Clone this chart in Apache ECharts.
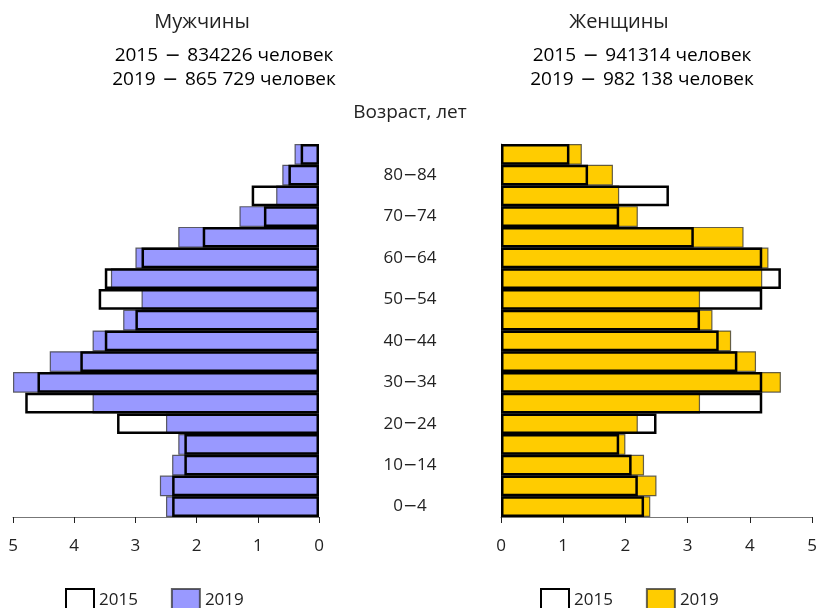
<!DOCTYPE html>
<html>
<head>
<meta charset="utf-8">
<script src="https://cdn.jsdelivr.net/npm/echarts@6/dist/echarts.min.js"></script>
<style>
  html, body { margin: 0; padding: 0; background: #fff; }
  #chart { width: 820px; height: 608px; }
</style>
</head>
<body>
<div id="chart"></div>
<script>
// age groups, youngest first (category axis runs bottom -> top)
const ages = ['0−4', '5−9', '10−14', '15−19', '20−24', '25−29', '30−34', '35−39', '40−44',
  '45−49', '50−54', '55−59', '60−64', '65−69', '70−74', '75−79', '80−84', '85+']

// percent of population
const men2015 = [2.4, 2.4, 2.2, 2.2, 3.3, 4.8, 4.6, 3.9, 3.5, 3.0, 3.6, 3.5, 2.9, 1.9, 0.9, 1.1, 0.5, 0.3]
const men2019 = [2.5, 2.6, 2.4, 2.3, 2.5, 3.7, 5.0, 4.4, 3.7, 3.2, 2.9, 3.4, 3.0, 2.3, 1.3, 0.7, 0.6, 0.4]
const women2015 = [2.3, 2.2, 2.1, 1.9, 2.5, 4.2, 4.2, 3.8, 3.5, 3.2, 4.2, 4.5, 4.2, 3.1, 1.9, 2.7, 1.4, 1.1]
const women2019 = [2.4, 2.5, 2.3, 2.0, 2.2, 3.2, 4.5, 4.1, 3.7, 3.4, 3.2, 4.2, 4.3, 3.9, 2.2, 1.9, 1.8, 1.3]

const xTicks = [0, 1, 2, 3, 4, 5]

const FONT = '"Open Sans", "Noto Sans", sans-serif'
const DASH_FONT = '"DejaVu Sans", sans-serif'
const BLUE = '#9999ff'
const YELLOW = '#ffcc00'
const INK = '#222'

const chart = echarts.init(document.getElementById('chart'))

function xAxisOf(gridIndex, inverse) {
  return {
    gridIndex: gridIndex,
    type: 'value',
    inverse: inverse,
    min: xTicks[0],
    max: xTicks[xTicks.length - 1],
    interval: 1,
    splitLine: { show: false },
    axisLine: { show: true, lineStyle: { color: '#777', width: 1 } },
    axisTick: { show: true, length: 6, lineStyle: { color: INK, width: 1 } },
    axisLabel: { color: INK, fontSize: 17, fontFamily: FONT, margin: 21 }
  }
}

function outlineSeries(name, data, xi) {
  return {
    name: name,
    type: 'bar',
    xAxisIndex: xi,
    yAxisIndex: xi,
    data: data,
    barGap: '-100%',
    barCategoryGap: 0,
    z: 3,
    itemStyle: { color: 'rgba(255,255,255,0)', borderColor: '#000', borderWidth: 2.5 }
  }
}

function filledSeries(name, data, xi, color) {
  return {
    name: name,
    type: 'bar',
    xAxisIndex: xi,
    yAxisIndex: xi,
    data: data,
    barGap: '-100%',
    barCategoryGap: 0,
    z: 2,
    itemStyle: { color: color, borderColor: 'rgba(50,50,50,0.75)', borderWidth: 1.2 }
  }
}

const richText = {
  a: { fontFamily: FONT, fontSize: 19, color: INK },
  d: { fontFamily: DASH_FONT, fontSize: 19, color: INK }
}

function label(x, y, text, size) {
  return {
    type: 'text', x: x, y: y,
    style: { text: text, fontFamily: FONT, fontSize: size, fill: INK, align: 'center', verticalAlign: 'middle' }
  }
}

function totalLine(x, y, year, count) {
  return {
    type: 'text', x: x, y: y,
    style: {
      text: '{a|' + year + '}  {d|−}  {a|' + count + ' человек}',
      rich: richText, align: 'center', verticalAlign: 'middle'
    }
  }
}

const legendBase = {
  top: 583, itemWidth: 28, itemHeight: 22, itemGap: 33, icon: 'rect',
  formatter: n => n.slice(1),
  textStyle: { fontSize: 17, fontFamily: FONT, color: INK }
}

const option = {
  animation: false,
  grid: [
    { left: 13, width: 306, top: 144, height: 373 },
    { left: 501, width: 311, top: 144, height: 373 }
  ],
  xAxis: [xAxisOf(0, true), xAxisOf(1, false)],
  yAxis: [
    {
      gridIndex: 0, type: 'category', data: ages,
      axisLine: { show: false }, axisTick: { show: false }, axisLabel: { show: false }
    },
    {
      gridIndex: 1, type: 'category', data: ages,
      axisLine: { show: true, lineStyle: { color: '#777' } }, axisTick: { show: false },
      axisLabel: {
        interval: 1, align: 'center', margin: 91,
        formatter: v => v.split('−').map(s => '{a|' + s + '}').join('{d|−}'),
        rich: {
          a: { fontFamily: FONT, fontSize: 17, color: INK },
          d: { fontFamily: DASH_FONT, fontSize: 17, color: INK }
        }
      }
    }
  ],
  legend: [
    Object.assign({ left: 60, data: ['m2015', 'm2019'] }, legendBase),
    Object.assign({ left: 535, data: ['f2015', 'f2019'] }, legendBase)
  ],
  graphic: [
    label(202, 22, 'Мужчины', 20),
    totalLine(224, 56, '2015', '834226'),
    totalLine(224, 80, '2019', '865 729'),
    label(619, 22, 'Женщины', 20),
    totalLine(642, 56, '2015', '941314'),
    totalLine(642, 80, '2019', '982 138'),
    label(410, 113, 'Возраст, лет', 19)
  ],
  series: [
    filledSeries('m2019', men2019, 0, BLUE),
    outlineSeries('m2015', men2015, 0),
    filledSeries('f2019', women2019, 1, YELLOW),
    outlineSeries('f2015', women2015, 1)
  ]
}

chart.setOption(option)
</script>
</body>
</html>
